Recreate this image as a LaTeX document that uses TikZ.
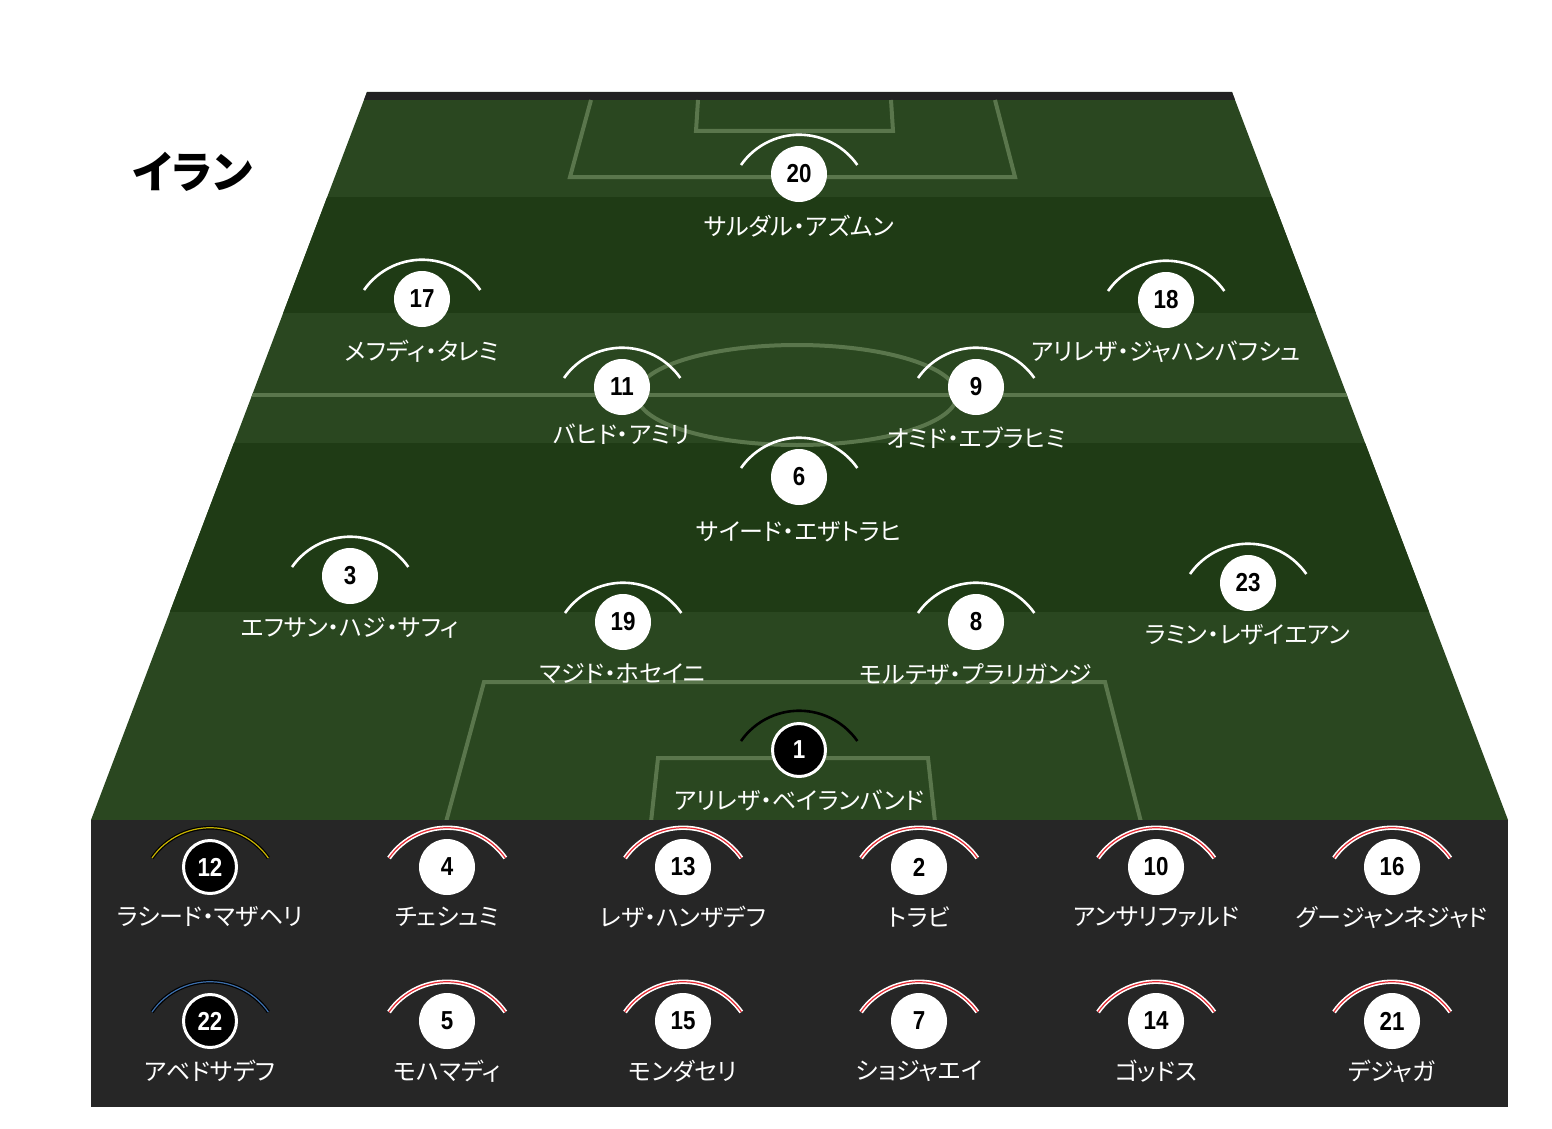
\documentclass[tikz,border=0pt]{standalone}
\usepackage{fontspec}
\setmainfont{Noto Sans CJK JP}[RawFeature=+palt]
\newfontfamily\numfont{Liberation Sans}[FakeStretch=0.86]
\usetikzlibrary{calc}
\definecolor{pitchL}{RGB}{42,71,32}
\definecolor{pitchD}{RGB}{31,59,21}
\definecolor{benchbg}{RGB}{38,38,38}
\definecolor{topstrip}{RGB}{34,34,34}
\definecolor{pline}{RGB}{90,118,76}
\definecolor{arcred}{RGB}{230,40,50}
\definecolor{arcyel}{RGB}{200,180,0}
\definecolor{arcblu}{RGB}{60,110,170}
\tikzset{
  numtxt/.style={font=\numfont\bfseries\fontsize{26}{26}\selectfont},
  fieldcirc/.style={circle,fill=white,minimum size=56,inner sep=0,numtxt,text=black},
  gkcirc/.style={circle,fill=black,draw=white,line width=3,minimum size=53,inner sep=0,numtxt,text=white},
  benchcirc/.style={fieldcirc},
  benchycirc/.style={gkcirc},
  benchbcirc/.style={gkcirc},
  fieldarc/.style={draw=white,line width=2.6},
  gkarc/.style={draw=black,line width=2.6},
  bencharc/.style={draw=white,double=arcred,double distance=1.2,line width=1.6},
  benchyarc/.style={draw=black,double=arcyel,double distance=1.2,line width=1.2},
  benchbarc/.style={draw=black,double=arcblu,double distance=1.2,line width=1.2},
  namelbl/.style={text=white,font=\fontsize{24}{24}\selectfont,inner sep=0},
  pitchline/.style={draw=pline,line width=4}
}
% #1 id, #2 x, #3 y, #4 number, #5 name, #6 kind, #7 label y
\newcommand\plr[7]{%
  \draw[#6arc] ($(#2,#3)+(-58,-9)$) arc[start angle=-145,end angle=-35,radius=71];
  \node[#6circ] (#1) at (#2,#3) {#4};
  \node[namelbl] (#1-l) at (#2,#7) {#5};
}
\begin{document}
\begin{tikzpicture}[x=1pt,y=-1pt]
\useasboundingbox (0,0) rectangle (1552,1129);
\fill[white] (0,0) rectangle (1552,1129);
% pitch
\coordinate (TL) at (367,92);
\coordinate (TR) at (1232,92);
\coordinate (BR) at (1508,820);
\coordinate (BL) at (91,820);
\fill[pitchL] (TL) -- (TR) -- (BR) -- (BL) -- cycle;
\begin{scope}
  \clip (TL) -- (TR) -- (BR) -- (BL) -- cycle;
  \fill[topstrip] (0,92) rectangle (1552,100);
  \fill[pitchD] (0,197) rectangle (1552,313);
  \fill[pitchD] (0,443) rectangle (1552,612);
  % halfway line
  \draw[pitchline] (0,395) -- (1552,395);
  \draw[pitchline] (797,395) ellipse[x radius=160,y radius=50];
  % top penalty area
  \draw[pitchline] (591,100) -- (570,177) -- (1015,177) -- (995,100);
  \draw[pitchline] (698,100) -- (696,131) -- (893,131) -- (891,100);
  % bottom penalty area
  \draw[pitchline] (446,822) -- (484,682) -- (1105,682) -- (1141,822);
  \draw[pitchline] (651,822) -- (658,758) -- (928,758) -- (935,822);
\end{scope}
% bench
\fill[benchbg] (91,820) rectangle (1508,1107);
% title
\node[font=\fontsize{44}{44}\selectfont\bfseries,text=black,inner sep=0] (title) at (193,172) {イラン};
% field players
\plr{p20}{799}{174}{20}{サルダル・アズムン}{field}{226}
\plr{p17}{422}{299}{17}{メフディ・タレミ}{field}{351}
\plr{p18}{1166}{300}{18}{アリレザ・ジャハンバフシュ}{field}{352}
\plr{p11}{622}{387}{11}{バヒド・アミリ}{field}{434}
\plr{p9}{976}{387}{9}{オミド・エブラヒミ}{field}{438}
\plr{p6}{799}{477}{6}{サイード・エザトラヒ}{field}{532}
\plr{p3}{350}{576}{3}{エフサン・ハジ・サフィ}{field}{628}
\plr{p19}{623}{622}{19}{マジド・ホセイニ}{field}{674}
\plr{p8}{976}{622}{8}{モルテザ・プラリガンジ}{field}{674}
\plr{p23}{1248}{583}{23}{ラミン・レザイエアン}{field}{635}
\plr{p1}{799}{750}{1}{アリレザ・ベイランバンド}{gk}{800}
% bench row 1
\plr{b12}{210}{867}{12}{ラシード・マザヘリ}{benchy}{917}
\plr{b4}{447}{867}{4}{チェシュミ}{bench}{917}
\plr{b13}{683}{867}{13}{レザ・ハンザデフ}{bench}{917}
\plr{b2}{919}{867}{2}{トラビ}{bench}{917}
\plr{b10}{1156}{867}{10}{アンサリファルド}{bench}{917}
\plr{b16}{1392}{867}{16}{グージャンネジャド}{bench}{917}
% bench row 2
\plr{b22}{210}{1021}{22}{アベドサデフ}{benchb}{1071}
\plr{b5}{447}{1021}{5}{モハマディ}{bench}{1071}
\plr{b15}{683}{1021}{15}{モンダセリ}{bench}{1071}
\plr{b7}{919}{1021}{7}{ショジャエイ}{bench}{1071}
\plr{b14}{1156}{1021}{14}{ゴッドス}{bench}{1071}
\plr{b21}{1392}{1021}{21}{デジャガ}{bench}{1071}
\end{tikzpicture}
\end{document}
